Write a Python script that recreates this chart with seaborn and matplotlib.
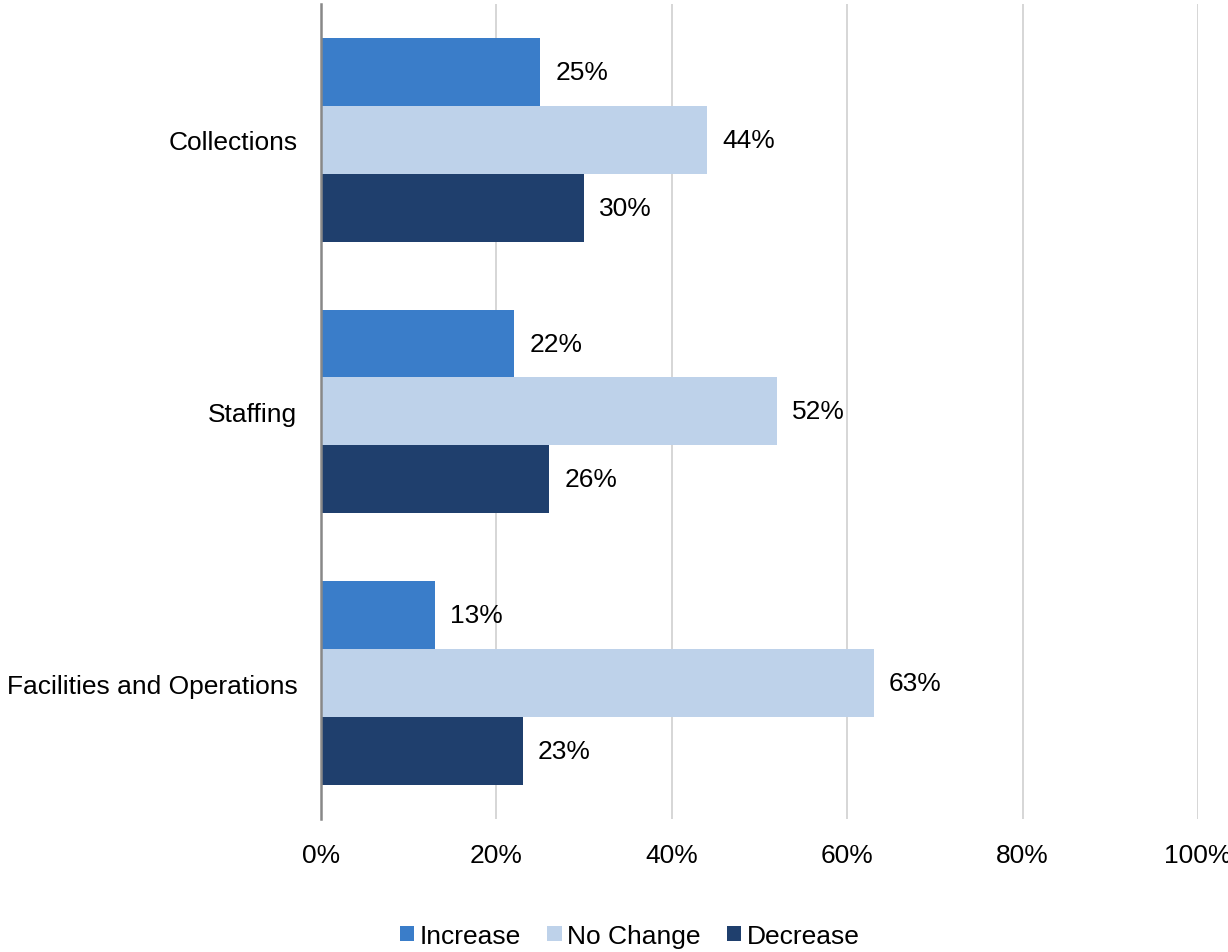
import matplotlib
matplotlib.use("Agg")
import matplotlib.pyplot as plt
import seaborn as sns
import pandas as pd
from matplotlib.patches import Patch

categories = ["Collections", "Staffing", "Facilities and Operations"]
series = ["Increase", "No Change", "Decrease"]
increase = [25, 22, 13]
no_change = [44, 52, 63]
decrease = [30, 26, 23]
x_ticks = [0, 20, 40, 60, 80, 100]
x_tick_labels = ["0%", "20%", "40%", "60%", "80%", "100%"]

colors = ["#3A7DC9", "#BED2EA", "#1F3F6D"]

rows = []
for cat, a, b, c in zip(categories, increase, no_change, decrease):
    rows.append({"category": cat, "series": "Increase", "value": a})
    rows.append({"category": cat, "series": "No Change", "value": b})
    rows.append({"category": cat, "series": "Decrease", "value": c})
df = pd.DataFrame(rows)

sns.set_theme(style="white")
plt.rcParams["font.family"] = ["Liberation Sans", "DejaVu Sans"]
FS = 19

fig = plt.figure(figsize=(12.28, 9.53), dpi=100)
ax = fig.add_axes([0.2614, 0.1396, 0.7142, 0.8552])

sns.barplot(data=df, y="category", x="value", hue="series", hue_order=series,
            order=categories, palette=colors, orient="h", width=0.75,
            saturation=1, linewidth=0, ax=ax, legend=False)

for container in ax.containers:
    vals = [int(round(p.get_width())) for p in container]
    ax.bar_label(container, labels=[f"{v}%" for v in vals], padding=11,
                 fontsize=FS, color="black")

ax.set_xlim(0, 100)
ax.set_ylim(2.5, -0.5)
ax.set_xticks(x_ticks)
ax.set_xticklabels(x_tick_labels)
ax.tick_params(axis="x", length=0, pad=17, labelsize=FS, labelcolor="black")
ax.tick_params(axis="y", length=0, pad=17, labelsize=FS, labelcolor="black")
ax.set_xlabel("")
ax.set_ylabel("")
ax.xaxis.grid(True, color="#D0D0D0", linewidth=1.2)
ax.set_axisbelow(True)
for s in ["top", "right", "bottom"]:
    ax.spines[s].set_visible(False)
ax.spines["left"].set_color("#888888")
ax.spines["left"].set_linewidth(1.8)
ax.spines["left"].set_zorder(5)

handles = [Patch(facecolor=c, edgecolor="none", label=s) for c, s in zip(colors, series)]
fig.legend(handles=handles, loc="center", bbox_to_anchor=(0.5126, 0.017), ncol=3,
           frameon=False, fontsize=FS, handlelength=0.55, handleheight=0.55,
           handletextpad=0.2, columnspacing=1.0, labelcolor="black")

fig.savefig("out.png", dpi=100)
